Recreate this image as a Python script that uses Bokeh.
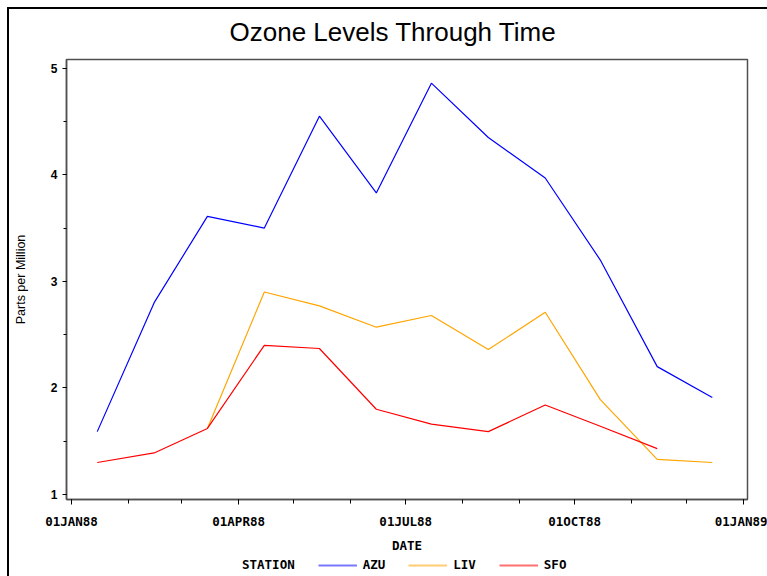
import calendar
from datetime import datetime
from bokeh.plotting import figure
from bokeh.layouts import column
from bokeh.models import (Range1d, FixedTicker, SingleIntervalTicker, Legend, LegendItem)
from bokeh.embed import file_html
from bokeh.resources import INLINE

# ---------------- data ----------------
title_text = "Ozone Levels Through Time"
y_label = "Parts per Million"
x_label = "DATE"
legend_title = "STATION"
stations = ["AZU", "LIV", "SFO"]
colors = ["#0000ff", "#ffa500", "#ff0000"]
legend_colors = ["#7878ff", "#ffcc70", "#ff7070"]

azu_dates = ["1988-01-15", "1988-02-15", "1988-03-15", "1988-04-15", "1988-05-15", "1988-06-15",
             "1988-07-15", "1988-08-15", "1988-09-15", "1988-10-15", "1988-11-15", "1988-12-15"]
azu_ppm = [1.59, 2.80, 3.61, 3.50, 4.55, 3.83, 4.86, 4.35, 3.97, 3.20, 2.20, 1.91]

liv_dates = ["1988-03-15", "1988-04-15", "1988-05-15", "1988-06-15", "1988-07-15",
             "1988-08-15", "1988-09-15", "1988-10-15", "1988-11-15", "1988-12-15"]
liv_ppm = [1.62, 2.90, 2.77, 2.57, 2.68, 2.36, 2.71, 1.89, 1.33, 1.30]

sfo_dates = ["1988-01-15", "1988-02-15", "1988-03-15", "1988-04-15", "1988-05-15", "1988-06-15",
             "1988-07-15", "1988-08-15", "1988-09-15", "1988-10-15", "1988-11-15"]
sfo_ppm = [1.30, 1.39, 1.62, 2.40, 2.37, 1.80, 1.66, 1.59, 1.84, 1.64, 1.43]

major_tick_dates = ["1988-01-01", "1988-04-01", "1988-07-01", "1988-10-01", "1989-01-01"]
major_tick_labels = ["01JAN88", "01APR88", "01JUL88", "01OCT88", "01JAN89"]
minor_tick_dates = ["1988-%02d-01" % m for m in range(1, 13)] + ["1989-01-01"]


def to_dt(s):
    return datetime.strptime(s, "%Y-%m-%d")


def to_ms(s):
    return calendar.timegm(to_dt(s).timetuple()) * 1000.0


series = [
    ([to_dt(d) for d in azu_dates], azu_ppm),
    ([to_dt(d) for d in liv_dates], liv_ppm),
    ([to_dt(d) for d in sfo_dates], sfo_ppm),
]

# ---------------- main figure ----------------
p = figure(width=767, height=556, x_axis_type="datetime",
           x_range=Range1d(datetime(1987, 12, 29, 6), datetime(1989, 1, 3, 4)),
           y_range=Range1d(0.953, 5.082),
           output_backend="svg", toolbar_location=None,
           min_border_left=66, min_border_right=20, min_border_top=59, min_border_bottom=57)
# page frame line on the left and top edges
p.border_fill_alpha = 0
p.background_fill_color = "white"
p.styles = {"box-shadow": "inset 7px 7px 0 0 white, inset 9px 9px 0 0 black",
            "background-color": "white"}

p.title.text = title_text
p.title.align = "left"
p.title.offset = 163
p.title.text_font = "Liberation Sans"
p.title.text_font_size = "26px"
p.title.text_font_style = "normal"
p.title.text_color = "black"
p.title.standoff = 25

p.xgrid.visible = False
p.ygrid.visible = False
p.outline_line_color = "#505050"
p.outline_line_width = 1.5

for (xs, ys), c in zip(series, colors):
    p.line(xs, ys, line_color=c, line_width=1.2)

# x axis
xa = p.xaxis[0]
xa.ticker = FixedTicker(ticks=[to_ms(d) for d in major_tick_dates],
                        minor_ticks=[to_ms(d) for d in minor_tick_dates])
xa.major_label_overrides = {to_ms(d): lab for d, lab in zip(major_tick_dates, major_tick_labels)}
xa.axis_label = x_label
xa.major_label_text_font = "DejaVu Sans Mono"
xa.major_label_text_font_style = "bold"
xa.major_label_text_font_size = "12.5px"
xa.axis_label_text_font = "DejaVu Sans Mono"
xa.axis_label_text_font_style = "bold"
xa.axis_label_text_font_size = "12.5px"
xa.major_label_standoff = 9
xa.axis_label_standoff = 6
xa.major_tick_out = 5
xa.major_tick_in = 0
xa.minor_tick_out = 4
xa.minor_tick_in = 0

# y axis
ya = p.yaxis[0]
ya.ticker = SingleIntervalTicker(interval=1, num_minor_ticks=2)
ya.axis_label = y_label
ya.axis_label_text_font = "Liberation Sans"
ya.axis_label_text_font_style = "normal"
ya.axis_label_text_font_size = "12.5px"
ya.axis_label_standoff = 20
ya.major_label_text_font = "Liberation Sans"
ya.major_label_text_font_style = "bold"
ya.major_label_text_font_size = "12px"
ya.major_label_standoff = 5
ya.major_tick_out = 4
ya.major_tick_in = 0
ya.minor_tick_out = 3
ya.minor_tick_in = 0

for ax in (xa, ya):
    ax.axis_line_color = "#505050"
    ax.axis_line_width = 1.5
    ax.major_tick_line_color = "black"
    ax.minor_tick_line_color = "black"
    ax.major_label_text_color = "black"
    ax.axis_label_text_color = "black"

# ---------------- legend strip ----------------
q = figure(width=767, height=20, x_range=Range1d(0, 1), y_range=Range1d(0, 1),
           output_backend="svg", toolbar_location=None,
           min_border_left=0, min_border_right=0, min_border_top=0, min_border_bottom=0)
q.axis.visible = False
q.grid.visible = False
q.outline_line_color = None
q.border_fill_alpha = 0
q.background_fill_alpha = 0
q.styles = {"box-shadow": "inset 7px 0 0 0 white, inset 9px 0 0 0 black",
            "background-color": "white"}

# legend sample lines live outside the strip's visible range
dummy = q.line([2, 3], [2, 3], line_alpha=0)
items = [LegendItem(label=legend_title, renderers=[dummy])]
for s, c in zip(stations, legend_colors):
    r = q.line([2, 3], [2, 3], line_color=c, line_width=2)
    items.append(LegendItem(label=s, renderers=[r]))
legend = Legend(items=items, orientation="horizontal", location=(131, 4),
                padding=0, margin=0, spacing=23, glyph_width=39, glyph_height=14,
                label_height=14, label_width=0, label_standoff=6,
                label_text_font="DejaVu Sans Mono", label_text_font_style="bold",
                label_text_font_size="12.5px", label_text_color="black",
                border_line_color=None, background_fill_alpha=0)
q.add_layout(legend, "center")

layout = column(p, q, spacing=0)
open("out.html", "w").write(file_html(layout, INLINE))
